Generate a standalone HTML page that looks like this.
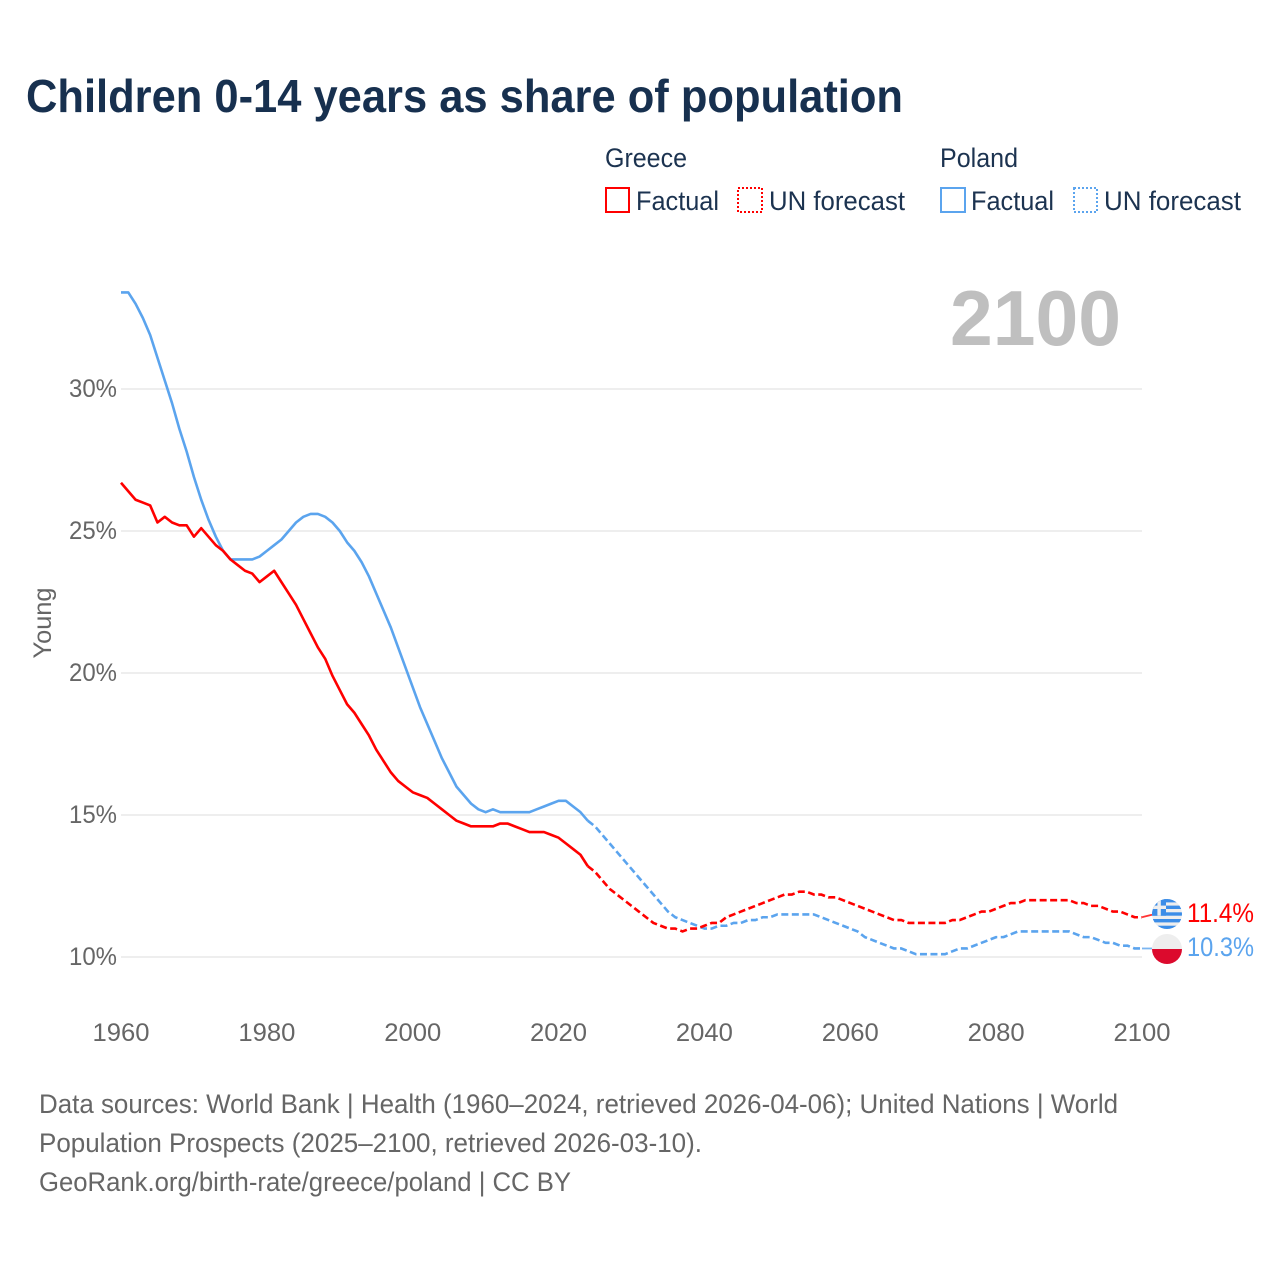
<!DOCTYPE html>
<html lang="en">
<head>
<meta charset="utf-8">
<title>Children 0-14 years as share of population</title>
<style>
html,body{margin:0;padding:0;background:#fff;}
svg{display:block;font-family:"Liberation Sans",sans-serif;}
</style>
</head>
<body>
<svg id="chart" width="1280" height="1280" viewBox="0 0 1280 1280" xmlns="http://www.w3.org/2000/svg">
  <defs>
    <clipPath id="clip-gr"><circle cx="1167" cy="914" r="15"/></clipPath>
    <clipPath id="clip-pl"><circle cx="1167" cy="949" r="15"/></clipPath>
  </defs>
  <rect width="1280" height="1280" fill="#fff"/>
  <text x="26" y="112" font-size="46" font-weight="700" fill="#17304f" textLength="877" lengthAdjust="spacingAndGlyphs">Children 0-14 years as share of population</text>

  <g font-size="27" fill="#1c3350">
    <text x="605" y="167" textLength="82" lengthAdjust="spacingAndGlyphs">Greece</text>
    <text x="940" y="167" textLength="78" lengthAdjust="spacingAndGlyphs">Poland</text>
    <rect x="606" y="188" width="23" height="24" fill="none" stroke="#ff0000" stroke-width="2"/>
    <text x="636" y="210" textLength="83" lengthAdjust="spacingAndGlyphs">Factual</text>
    <rect x="738" y="188" width="24" height="24" fill="none" stroke="#ff0000" stroke-width="2" stroke-dasharray="2 2"/>
    <text x="769" y="210" textLength="136" lengthAdjust="spacingAndGlyphs">UN forecast</text>
    <rect x="941" y="188" width="24" height="24" fill="none" stroke="#5ba4ee" stroke-width="2"/>
    <text x="971" y="210" textLength="83" lengthAdjust="spacingAndGlyphs">Factual</text>
    <rect x="1074" y="188" width="23" height="24" fill="none" stroke="#5ba4ee" stroke-width="2" stroke-dasharray="2 2"/>
    <text x="1104" y="210" textLength="137" lengthAdjust="spacingAndGlyphs">UN forecast</text>
  </g>

  <text x="950" y="345" font-size="78" font-weight="700" fill="#bfbfbf" textLength="171" lengthAdjust="spacingAndGlyphs">2100</text>
  <text transform="translate(51,623) rotate(-90)" text-anchor="middle" font-size="25" fill="#666" textLength="71" lengthAdjust="spacingAndGlyphs">Young</text>

  <g id="grid"></g>
  <g id="y-ticks"></g>
  <g id="x-ticks"></g>
  <g id="series"></g>

  <g clip-path="url(#clip-gr)">
    <rect x="1150" y="897" width="34" height="34" fill="#eeeeee"/>
    <rect x="1150" y="899" width="34" height="3.4" fill="#3b8de8"/>
    <rect x="1150" y="905.6" width="34" height="3.4" fill="#3b8de8"/>
    <rect x="1150" y="912.3" width="34" height="3.4" fill="#3b8de8"/>
    <rect x="1150" y="919" width="34" height="3.4" fill="#3b8de8"/>
    <rect x="1150" y="925.7" width="34" height="3.4" fill="#3b8de8"/>
    <rect x="1152" y="899" width="14" height="16.7" fill="#3b8de8"/>
    <rect x="1157.4" y="899" width="3.4" height="16.7" fill="#eeeeee"/>
    <rect x="1152" y="905.6" width="14" height="3.4" fill="#eeeeee"/>
  </g>
  <g clip-path="url(#clip-pl)">
    <rect x="1150" y="932" width="34" height="17" fill="#eeeeee"/>
    <rect x="1150" y="949" width="34" height="17" fill="#dc0a2d"/>
  </g>

  <g font-size="27" fill="#666">
    <text x="39" y="1113" textLength="1079" lengthAdjust="spacingAndGlyphs">Data sources: World Bank | Health (1960–2024, retrieved 2026-04-06); United Nations | World</text>
    <text x="39" y="1152" textLength="663" lengthAdjust="spacingAndGlyphs">Population Prospects (2025–2100, retrieved 2026-03-10).</text>
    <text x="39" y="1191" textLength="532" lengthAdjust="spacingAndGlyphs">GeoRank.org/birth-rate/greece/poland | CC BY</text>
  </g>
</svg>
<script>
const xTickLabels = [1960, 1980, 2000, 2020, 2040, 2060, 2080, 2100];
const yTickLabels = [10, 15, 20, 25, 30];
const factualStartYear = 1960;
const forecastStartYear = 2024;
const greeceFactual = [
  26.7,26.4,26.1,26.0,25.9,25.3,25.5,25.3,25.2,25.2,
  24.8,25.1,24.8,24.5,24.3,24.0,23.8,23.6,23.5,23.2,
  23.4,23.6,23.2,22.8,22.4,21.9,21.4,20.9,20.5,19.9,
  19.4,18.9,18.6,18.2,17.8,17.3,16.9,16.5,16.2,16.0,
  15.8,15.7,15.6,15.4,15.2,15.0,14.8,14.7,14.6,14.6,
  14.6,14.6,14.7,14.7,14.6,14.5,14.4,14.4,14.4,14.3,
  14.2,14.0,13.8,13.6,13.2
];
const greeceForecast = [
  13.2,13.0,12.7,12.4,12.2,12.0,
  11.8,11.6,11.4,11.2,11.1,11.0,11.0,10.9,11.0,11.0,
  11.1,11.2,11.2,11.4,11.5,11.6,11.7,11.8,11.9,12.0,
  12.1,12.2,12.2,12.3,12.3,12.2,12.2,12.1,12.1,12.0,
  11.9,11.8,11.7,11.6,11.5,11.4,11.3,11.3,11.2,11.2,
  11.2,11.2,11.2,11.2,11.3,11.3,11.4,11.5,11.6,11.6,
  11.7,11.8,11.9,11.9,12.0,12.0,12.0,12.0,12.0,12.0,
  12.0,11.9,11.9,11.8,11.8,11.7,11.6,11.6,11.5,11.4,
  11.4
];
const polandFactual = [
  33.4,33.4,33.0,32.5,31.9,31.1,30.3,29.5,28.6,27.8,
  26.9,26.1,25.4,24.8,24.3,24.0,24.0,24.0,24.0,24.1,
  24.3,24.5,24.7,25.0,25.3,25.5,25.6,25.6,25.5,25.3,
  25.0,24.6,24.3,23.9,23.4,22.8,22.2,21.6,20.9,20.2,
  19.5,18.8,18.2,17.6,17.0,16.5,16.0,15.7,15.4,15.2,
  15.1,15.2,15.1,15.1,15.1,15.1,15.1,15.2,15.3,15.4,
  15.5,15.5,15.3,15.1,14.8
];
const polandForecast = [
  14.8,14.6,14.3,14.0,13.7,13.4,
  13.1,12.8,12.5,12.2,11.9,11.6,11.4,11.3,11.2,11.1,
  11.0,11.0,11.1,11.1,11.2,11.2,11.3,11.3,11.4,11.4,
  11.5,11.5,11.5,11.5,11.5,11.5,11.4,11.3,11.2,11.1,
  11.0,10.9,10.7,10.6,10.5,10.4,10.3,10.3,10.2,10.1,
  10.1,10.1,10.1,10.1,10.2,10.3,10.3,10.4,10.5,10.6,
  10.7,10.7,10.8,10.9,10.9,10.9,10.9,10.9,10.9,10.9,
  10.9,10.8,10.7,10.7,10.6,10.5,10.5,10.4,10.4,10.3,
  10.3
];

const SVG_NS = 'http://www.w3.org/2000/svg';
const X0 = 121, X1 = 1142, YEAR0 = 1960, YEAR1 = 2100;
const Y10 = 957, PX_PER_PCT = 28.4;
const RED = '#ff0000', BLUE = '#5ba4ee';
const CONNECTOR_END = 1152;

function xScale(year) {
  return X0 + (year - YEAR0) * (X1 - X0) / (YEAR1 - YEAR0);
}
function yScale(pct) {
  return Y10 - (pct - 10) * PX_PER_PCT;
}
function points(values, startYear) {
  return values.map(function (v, i) {
    return xScale(startYear + i).toFixed(2) + ',' + yScale(v).toFixed(2);
  }).join(' ');
}
function make(tag, parentId) {
  const el = document.createElementNS(SVG_NS, tag);
  document.getElementById(parentId).appendChild(el);
  return el;
}
function drawLine(values, startYear, color, dashed, name) {
  const el = make('polyline', 'series');
  
  
  el.setAttribute('points', points(values, startYear));
  el.setAttribute('fill', 'none');
  el.setAttribute('stroke', color);
  el.setAttribute('stroke-width', '2.6');
  el.setAttribute('stroke-linejoin', 'round');
  if (dashed) el.setAttribute('stroke-dasharray', '7 3.5');
}
function drawConnector(values, color, rise, name) {
  const last = values[values.length - 1];
  const el = make('line', 'series');
  
  
  el.setAttribute('x1', xScale(YEAR1));
  el.setAttribute('y1', yScale(last));
  el.setAttribute('x2', CONNECTOR_END);
  el.setAttribute('y2', yScale(last) - rise);
  el.setAttribute('stroke', color);
  el.setAttribute('stroke-width', '1.8');
  el.setAttribute('stroke-opacity', '0.8');
}
function drawEndLabel(values, color, baseline, name) {
  const el = make('text', 'series');
  
  
  el.setAttribute('x', '1187');
  el.setAttribute('y', baseline);
  el.setAttribute('font-size', '27');
  el.setAttribute('fill', color);
  el.setAttribute('textLength', '67');
  el.setAttribute('lengthAdjust', 'spacingAndGlyphs');
  el.textContent = values[values.length - 1].toFixed(1) + '%';
}

yTickLabels.forEach(function (t) {
  const g = make('line', 'grid');
  
  
  g.setAttribute('x1', X0);
  g.setAttribute('x2', X1);
  g.setAttribute('y1', yScale(t));
  g.setAttribute('y2', yScale(t));
  g.setAttribute('stroke', '#e9e9e9');
  g.setAttribute('stroke-width', '1.5');
  const l = make('text', 'y-ticks');
  
  
  l.setAttribute('x', '117');
  l.setAttribute('y', yScale(t) + 8);
  l.setAttribute('text-anchor', 'end');
  l.setAttribute('font-size', '25');
  l.setAttribute('fill', '#666');
  l.setAttribute('textLength', '48');
  l.setAttribute('lengthAdjust', 'spacingAndGlyphs');
  l.textContent = t + '%';
});
xTickLabels.forEach(function (t) {
  const l = make('text', 'x-ticks');
  
  
  l.setAttribute('x', xScale(t));
  l.setAttribute('y', '1041');
  l.setAttribute('text-anchor', 'middle');
  l.setAttribute('font-size', '25');
  l.setAttribute('fill', '#666');
  l.setAttribute('textLength', '57');
  l.setAttribute('lengthAdjust', 'spacingAndGlyphs');
  l.textContent = t;
});

drawConnector(polandForecast, BLUE, 0, 'connector-poland');
drawConnector(greeceForecast, RED, 2.5, 'connector-greece');
drawLine(polandFactual, factualStartYear, BLUE, false, 'line-poland-factual');
drawLine(polandForecast, forecastStartYear, BLUE, true, 'line-poland-forecast');
drawLine(greeceFactual, factualStartYear, RED, false, 'line-greece-factual');
drawLine(greeceForecast, forecastStartYear, RED, true, 'line-greece-forecast');
drawEndLabel(greeceForecast, RED, 922, 'end-label-greece');
drawEndLabel(polandForecast, BLUE, 956, 'end-label-poland');
</script>
</body>
</html>
